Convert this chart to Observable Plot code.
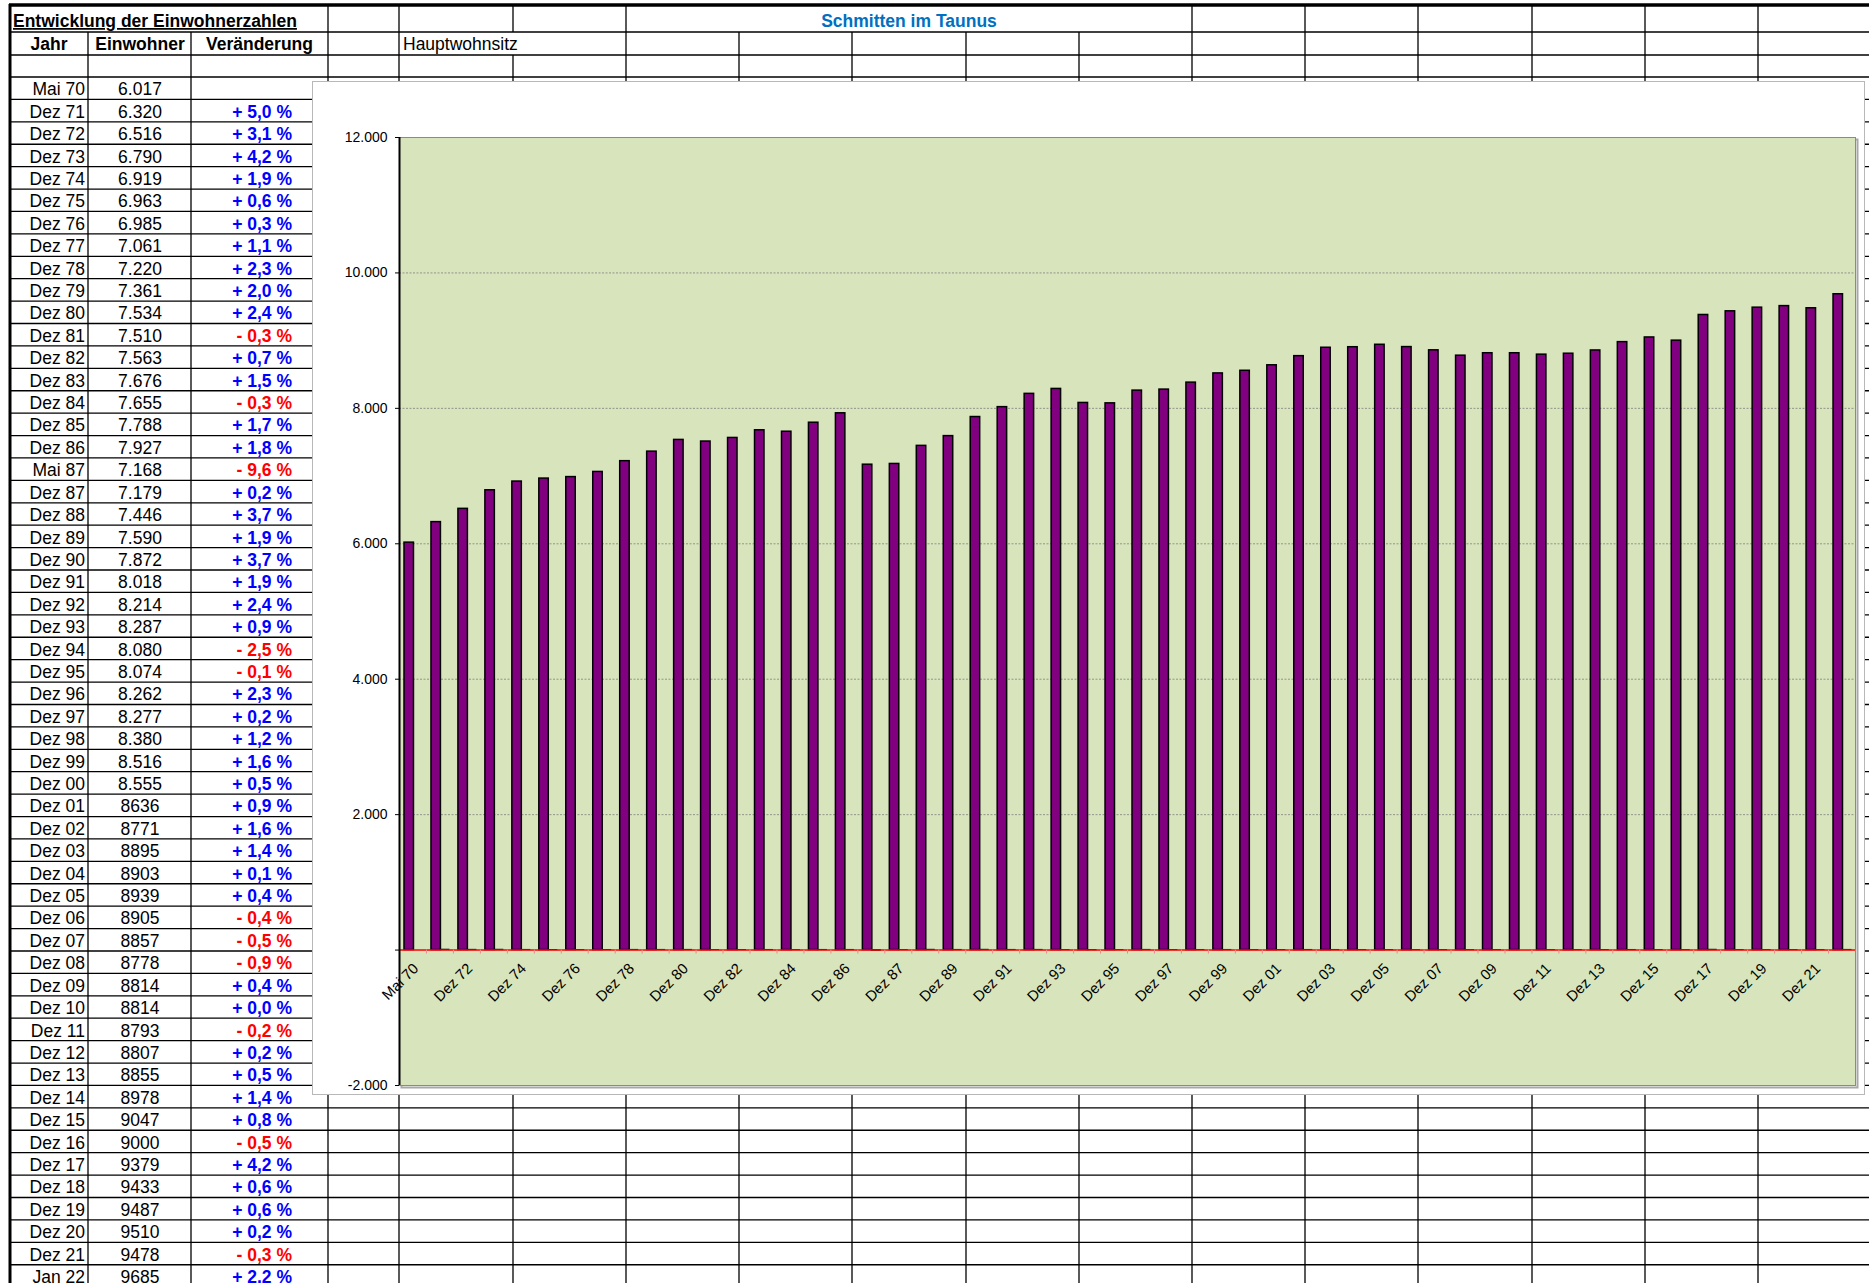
<!DOCTYPE html>
<html><head><meta charset="utf-8">
<script src="https://cdn.jsdelivr.net/npm/d3@7"></script>
<script src="https://cdn.jsdelivr.net/npm/@observablehq/plot@0.6"></script>
<style>
html,body{margin:0;padding:0;background:#fff;overflow:hidden;width:1869px;height:1283px;}
#sheet{position:absolute;left:0;top:0;}
#chart{position:absolute;left:312px;top:81px;width:1551px;height:1012px;border:1px solid #b8b8b8;background:#fff;}
#chart svg{display:block;overflow:visible;}
</style></head><body>
<svg id="sheet" width="1869" height="1283"></svg>
<div id="chart"></div>
<script>
// ---- data ----
const jahre = ["Mai 70","Dez 71","Dez 72","Dez 73","Dez 74","Dez 75","Dez 76","Dez 77","Dez 78","Dez 79",
  "Dez 80","Dez 81","Dez 82","Dez 83","Dez 84","Dez 85","Dez 86","Mai 87","Dez 87","Dez 88",
  "Dez 89","Dez 90","Dez 91","Dez 92","Dez 93","Dez 94","Dez 95","Dez 96","Dez 97","Dez 98",
  "Dez 99","Dez 00","Dez 01","Dez 02","Dez 03","Dez 04","Dez 05","Dez 06","Dez 07","Dez 08",
  "Dez 09","Dez 10","Dez 11","Dez 12","Dez 13","Dez 14","Dez 15","Dez 16","Dez 17","Dez 18",
  "Dez 19","Dez 20","Dez 21","Jan 22"];
const einwohner = [6017,6320,6516,6790,6919,6963,6985,7061,7220,7361,
  7534,7510,7563,7676,7655,7788,7927,7168,7179,7446,
  7590,7872,8018,8214,8287,8080,8074,8262,8277,8380,
  8516,8555,8636,8771,8895,8903,8939,8905,8857,8778,
  8814,8814,8793,8807,8855,8978,9047,9000,9379,9433,
  9487,9510,9478,9685];
const veraenderung = [null,5.0,3.1,4.2,1.9,0.6,0.3,1.1,2.3,2.0,
  2.4,-0.3,0.7,1.5,-0.3,1.7,1.8,-9.6,0.2,3.7,
  1.9,3.7,1.9,2.4,0.9,-2.5,-0.1,2.3,0.2,1.2,
  1.6,0.5,0.9,1.6,1.4,0.1,0.4,-0.4,-0.5,-0.9,
  0.4,0.0,-0.2,0.2,0.5,1.4,0.8,-0.5,4.2,0.6,
  0.6,0.2,-0.3,2.2];
const ersteOhnePunkt = "Dez 01"; // from this row on the sheet writes the number without thousands dot
const xTickLabels = ["Mai 70","Dez 72","Dez 74","Dez 76","Dez 78","Dez 80","Dez 82","Dez 84","Dez 86",
  "Dez 87","Dez 89","Dez 91","Dez 93","Dez 95","Dez 97","Dez 99","Dez 01","Dez 03","Dez 05",
  "Dez 07","Dez 09","Dez 11","Dez 13","Dez 15","Dez 17","Dez 19","Dez 21"];
const yTicks = [-2000,0,2000,4000,6000,8000,10000,12000];
const gridTicks = [2000,4000,6000,8000,10000];
const titel = "Entwicklung der Einwohnerzahlen";
const ortTitel = "Schmitten im Taunus";
const kopf = ["Jahr","Einwohner","Veränderung"];
const hinweis = "Hauptwohnsitz";

const de = d3.formatLocale({decimal:",", thousands:".", grouping:[3], currency:["","€"], minus:"-"});
const fmtT = de.format(",");

// ---- spreadsheet ----
const FONT = "Liberation Sans, Arial, sans-serif";
const sheet = d3.select("#sheet");
const W = 1869, H = 1283;
const rowH = 22.41, row0 = 77;
const colX = [88,191,328,399,513,626,739,852,966,1079,1192,1305,1418,1532,1645,1758];
const g = sheet.append("g").attr("stroke","#000").attr("stroke-width",1.3);
const hl = (y,x1,x2,w) => g.append("line").attr("x1",x1).attr("x2",x2).attr("y1",y).attr("y2",y).attr("stroke-width",w||1.3);
const vl = (x,y1,y2,w) => g.append("line").attr("x1",x).attr("x2",x).attr("y1",y1).attr("y2",y2).attr("stroke-width",w||1.3);
[32,55,77].forEach(y=>hl(y,10,W));
for (let k=1;k<=jahre.length;k++){ const y=row0+k*rowH; if(y<H) hl(y,10,W); }
[328,399,513,626,1192,1305,1418,1532,1645,1758].forEach(x=>vl(x,5,32));
colX.filter(x=>x!==513).forEach(x=>vl(x,32,55));
colX.forEach(x=>vl(x,55,H));
hl(5,9,W,3.5);
vl(10,4,H,3);

const t = sheet.append("g").attr("font-family",FONT).attr("font-size",17.5);
t.append("text").attr("x",13).attr("y",27).attr("font-weight","bold").attr("text-decoration","underline").text(titel);
t.append("text").attr("x",909).attr("y",27).attr("font-weight","bold").attr("fill","#0070C0").attr("text-anchor","middle").text(ortTitel);
[[49,kopf[0]],[140,kopf[1]],[259.5,kopf[2]]].forEach(([x,s])=>
  t.append("text").attr("x",x).attr("y",50).attr("font-weight","bold").attr("text-anchor","middle").text(s));
t.append("text").attr("x",403).attr("y",50).text(hinweis);
const cut = jahre.indexOf(ersteOhnePunkt);
jahre.forEach((j,i)=>{
  const y = row0 + i*rowH + 18.3;
  t.append("text").attr("x",85).attr("y",y).attr("text-anchor","end").text(j);
  t.append("text").attr("x",140).attr("y",y).attr("text-anchor","middle").text(i<cut ? fmtT(einwohner[i]) : String(einwohner[i]));
  const v = veraenderung[i];
  if (v!=null){
    t.append("text").attr("x",292).attr("y",y).attr("text-anchor","end").attr("font-weight","bold")
     .attr("fill", v<0 ? "#FF0000" : "#0000FF")
     .text((v<0?"- ":"+ ")+Math.abs(v).toFixed(1).replace(".",",")+" %");
  }
});

// ---- chart ----
const rows = jahre.map((j,i)=>({jahr:j, einwohner:einwohner[i], veraenderung:veraenderung[i]}));
const CW=1551, CH=1012, mL=86, mT=55, mR=9, mB=9;
const bw = (CW-mL-mR)/jahre.length;
const chart = Plot.plot({
  width: CW, height: CH, marginLeft: mL, marginTop: mT, marginRight: mR, marginBottom: mB,
  style: {fontFamily: FONT, fontSize: "14px", color: "#000", background: "transparent", overflow: "visible"},
  x: {domain: jahre, padding: 0, axis: null},
  y: {domain: [-2000, 12000], axis: null},
  marks: [
    Plot.frame({stroke: "#a8a8a8", strokeWidth: 2, dx: 2, dy: 2}),
    Plot.frame({fill: "#D8E4BC", stroke: "#8a8a8a"}),
    Plot.gridY(gridTicks, {stroke: "#808080", strokeOpacity: 1, strokeDasharray: "2,1.5", strokeWidth: 0.8}),
    Plot.barY(rows, {x: "jahr", y: "einwohner", fill: "#800080", stroke: "#000", strokeWidth: 1.5, insetLeft: 5, insetRight: 12.5}),
    Plot.barY(rows.filter(d=>d.veraenderung!=null), {x: "jahr", y: "veraenderung", fill: "#000", stroke: "#000", strokeWidth: 1, insetLeft: 14, insetRight: 4}),
    Plot.ruleY([0], {stroke: "#ff0000", strokeWidth: 1.5}),
    Plot.ruleX(jahre, {x: d=>d, y1: 0, y2: -60, dx: -bw/2, stroke: "#f08a8a"}),
    Plot.ruleX([jahre[0]], {x: d=>d, dx: -bw/2, stroke: "#000", strokeWidth: 2}),
    Plot.axisY(yTicks, {tickSize: 4, tickPadding: 8, tickFormat: d => d===0 ? "" : fmtT(d), fontSize: 14, label: null}),
    Plot.text(xTickLabels, {x: d=>d, y: 0, text: d=>d, rotate: -45, textAnchor: "end", dx: 3, dy: 16, fontSize: 14.8})
  ]
});
document.getElementById("chart").appendChild(chart);
</script>
</body></html>
